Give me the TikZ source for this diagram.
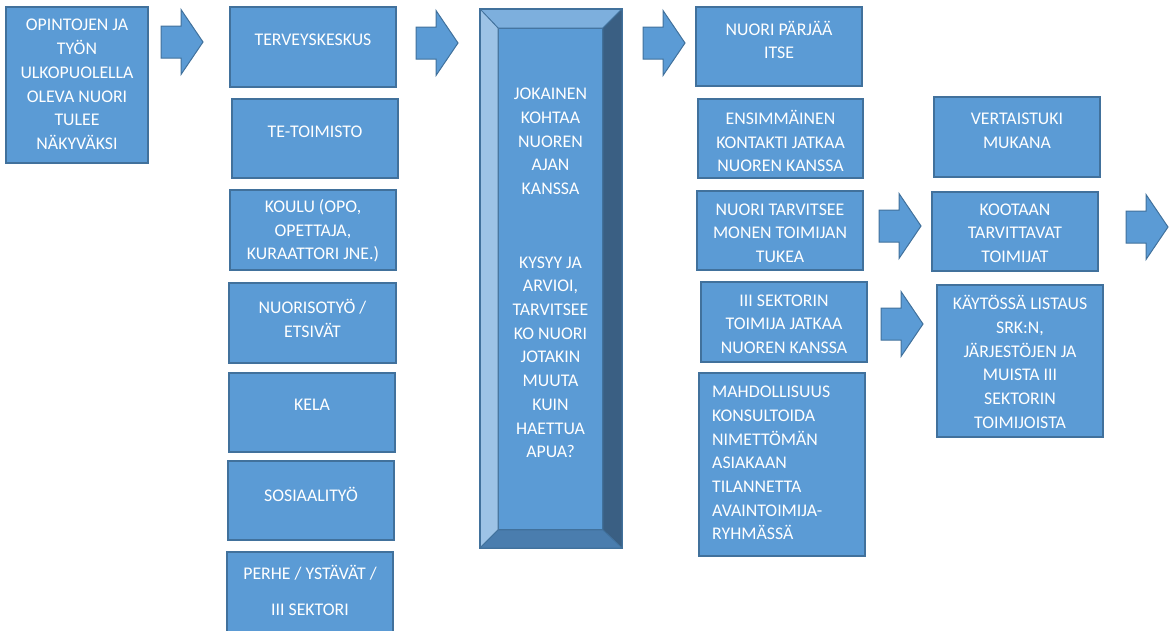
\documentclass[tikz,border=0pt]{standalone}
\usepackage{fontspec}
\setmainfont{Carlito}
\usepackage{tikz}
\usetikzlibrary{calc}
\usepackage{xcolor}
\definecolor{blokfill}{HTML}{5B9BD5}
\definecolor{blokline}{HTML}{41719C}
\definecolor{viisteyla}{HTML}{7DAFDD}
\definecolor{viistevasen}{HTML}{9DC3E6}
\definecolor{viisteoikea}{HTML}{3A5F83}
\definecolor{viisteala}{HTML}{4A7DAE}

\begin{document}
\begin{tikzpicture}[x=1pt, y=-1pt,
    blok/.style={draw=blokline, fill=blokfill, line width=1.2pt, inner sep=0pt, outer sep=0pt, minimum width=166, minimum height=80},
    tekst/.style={text=white, align=center, inner sep=0pt, font=\fontsize{17.8}{23.7}\selectfont},
    nuoli/.style={draw=blokline, fill=blokfill, line width=1pt, line join=miter},
    viiste/.style={draw=blokline, line width=0.8pt, line join=miter}]
            \useasboundingbox (0,0) rectangle (1174,630);
            % ensimmainen sarake
            \node[blok, minimum width=142, minimum height=156] (opin) at (77,85) {};
            \node[tekst] (opint) at (77,84.5) {OPINTOJEN JA\\TYÖN\\ULKOPUOLELLA\\OLEVA NUORI\\TULEE\\NÄKYVÄKSI};
            % toimijat
            \node[blok] (terv) at (313,47) {};
            \node[blok, minimum height=79] (teto) at (315,138.5) {};
            \node[blok] (koulu) at (313,230) {};
            \node[blok, minimum width=167] (nuoriso) at (312.5,323) {};
            \node[blok, minimum height=79] (kela) at (312,412.5) {};
            \node[blok, minimum height=79] (sosi) at (311,500.5) {};
            \node[blok, minimum height=90] (perhe) at (310,597) {};
            \node[tekst] (tervt) at (313,40) {TERVEYSKESKUS};
            \node[tekst] (tetot) at (315,132) {TE-TOIMISTO};
            \node[tekst] (koulut) at (313,231) {KOULU (OPO,\\OPETTAJA,\\KURAATTORI JNE.)};
            \node[tekst] (nuorisot) at (312.5,318.5) {NUORISOTYÖ /\\ETSIVÄT};
            \node[tekst] (kelat) at (312,405) {KELA};
            \node[tekst] (sosit) at (311,494) {SOSIAALITYÖ};
            \node[tekst, font=\fontsize{17.8}{36}\selectfont] (perhet) at (310,590) {PERHE / YSTÄVÄT /\\III SEKTORI};
            % viistetty laatikko
            \node[blok, minimum width=142, minimum height=539] (kohtaa) at (551,278.5) {};
            \node[blok, minimum width=105, minimum height=502] (kohtaai) at (550.5,279) {};
            \filldraw[viiste, fill=viisteyla] (kohtaa.north west) -- (kohtaa.north east) -- (kohtaai.north east) -- (kohtaai.north west) -- cycle;
            \filldraw[viiste, fill=viistevasen] (kohtaa.north west) -- (kohtaai.north west) -- (kohtaai.south west) -- (kohtaa.south west) -- cycle;
            \filldraw[viiste, fill=viisteoikea] (kohtaa.north east) -- (kohtaai.north east) -- (kohtaai.south east) -- (kohtaa.south east) -- cycle;
            \filldraw[viiste, fill=viisteala] (kohtaa.south west) -- (kohtaai.south west) -- (kohtaai.south east) -- (kohtaa.south east) -- cycle;
            \draw[blokline, line width=1pt] (kohtaa.north west) rectangle (kohtaa.south east);
            \node[tekst] (kohtaat) at (550.5,273) {JOKAINEN\\KOHTAA\\NUOREN\\AJAN\\KANSSA\\[50pt]KYSYY JA\\ARVIOI,\\TARVITSEE\\KO NUORI\\JOTAKIN\\MUUTA\\KUIN\\HAETTUA\\APUA?};
            % jatkopolut
            \node[blok, minimum height=79] (parj) at (779,46.5) {};
            \node[blok, minimum width=165, minimum height=79] (ensim) at (780.5,138.5) {};
            \node[blok, minimum height=79] (tarv) at (780,230.5) {};
            \node[blok] (sekt) at (784,322) {};
            \node[blok, minimum height=183] (mahd) at (782,464.5) {};
            \node[tekst] (parjt) at (779,40) {NUORI PÄRJÄÄ\\ITSE};
            \node[tekst] (ensimt) at (780.5,141) {ENSIMMÄINEN\\KONTAKTI JATKAA\\NUOREN KANSSA};
            \node[tekst] (tarvt) at (780,233) {NUORI TARVITSEE\\MONEN TOIMIJAN\\TUKEA};
            \node[tekst] (sektt) at (784,324) {III SEKTORIN\\TOIMIJA JATKAA\\NUOREN KANSSA};
            \node[tekst, align=left, anchor=west] (mahdt) at (712,463) {MAHDOLLISUUS\\KONSULTOIDA\\NIMETTÖMÄN\\ASIAKAAN\\TILANNETTA\\AVAINTOIMIJA-\\RYHMÄSSÄ};
            % viimeinen sarake
            \node[blok] (vert) at (1017,137) {};
            \node[blok, minimum height=79] (koot) at (1015,231.5) {};
            \node[blok, minimum height=152] (kayt) at (1020,361) {};
            \node[tekst] (vertt) at (1017,130.5) {VERTAISTUKI\\MUKANA};
            \node[tekst] (koott) at (1015,233) {KOOTAAN\\TARVITTAVAT\\TOIMIJAT};
            \node[tekst] (kaytt) at (1020,362) {KÄYTÖSSÄ LISTAUS\\SRK:N,\\JÄRJESTÖJEN JA\\MUISTA III\\SEKTORIN\\TOIMIJOISTA};
            % nuolet
            \foreach \x/\y in {161/42, 416/43, 643/43, 879/226, 881/324, 1126/227}
                \draw[nuoli] (\x,\y-16) -- (\x+20,\y-16) -- (\x+20,\y-32.5) -- (\x+42,\y) -- (\x+20,\y+32.5) -- (\x+20,\y+16) -- (\x,\y+16) -- cycle;
\end{tikzpicture}
\end{document}
